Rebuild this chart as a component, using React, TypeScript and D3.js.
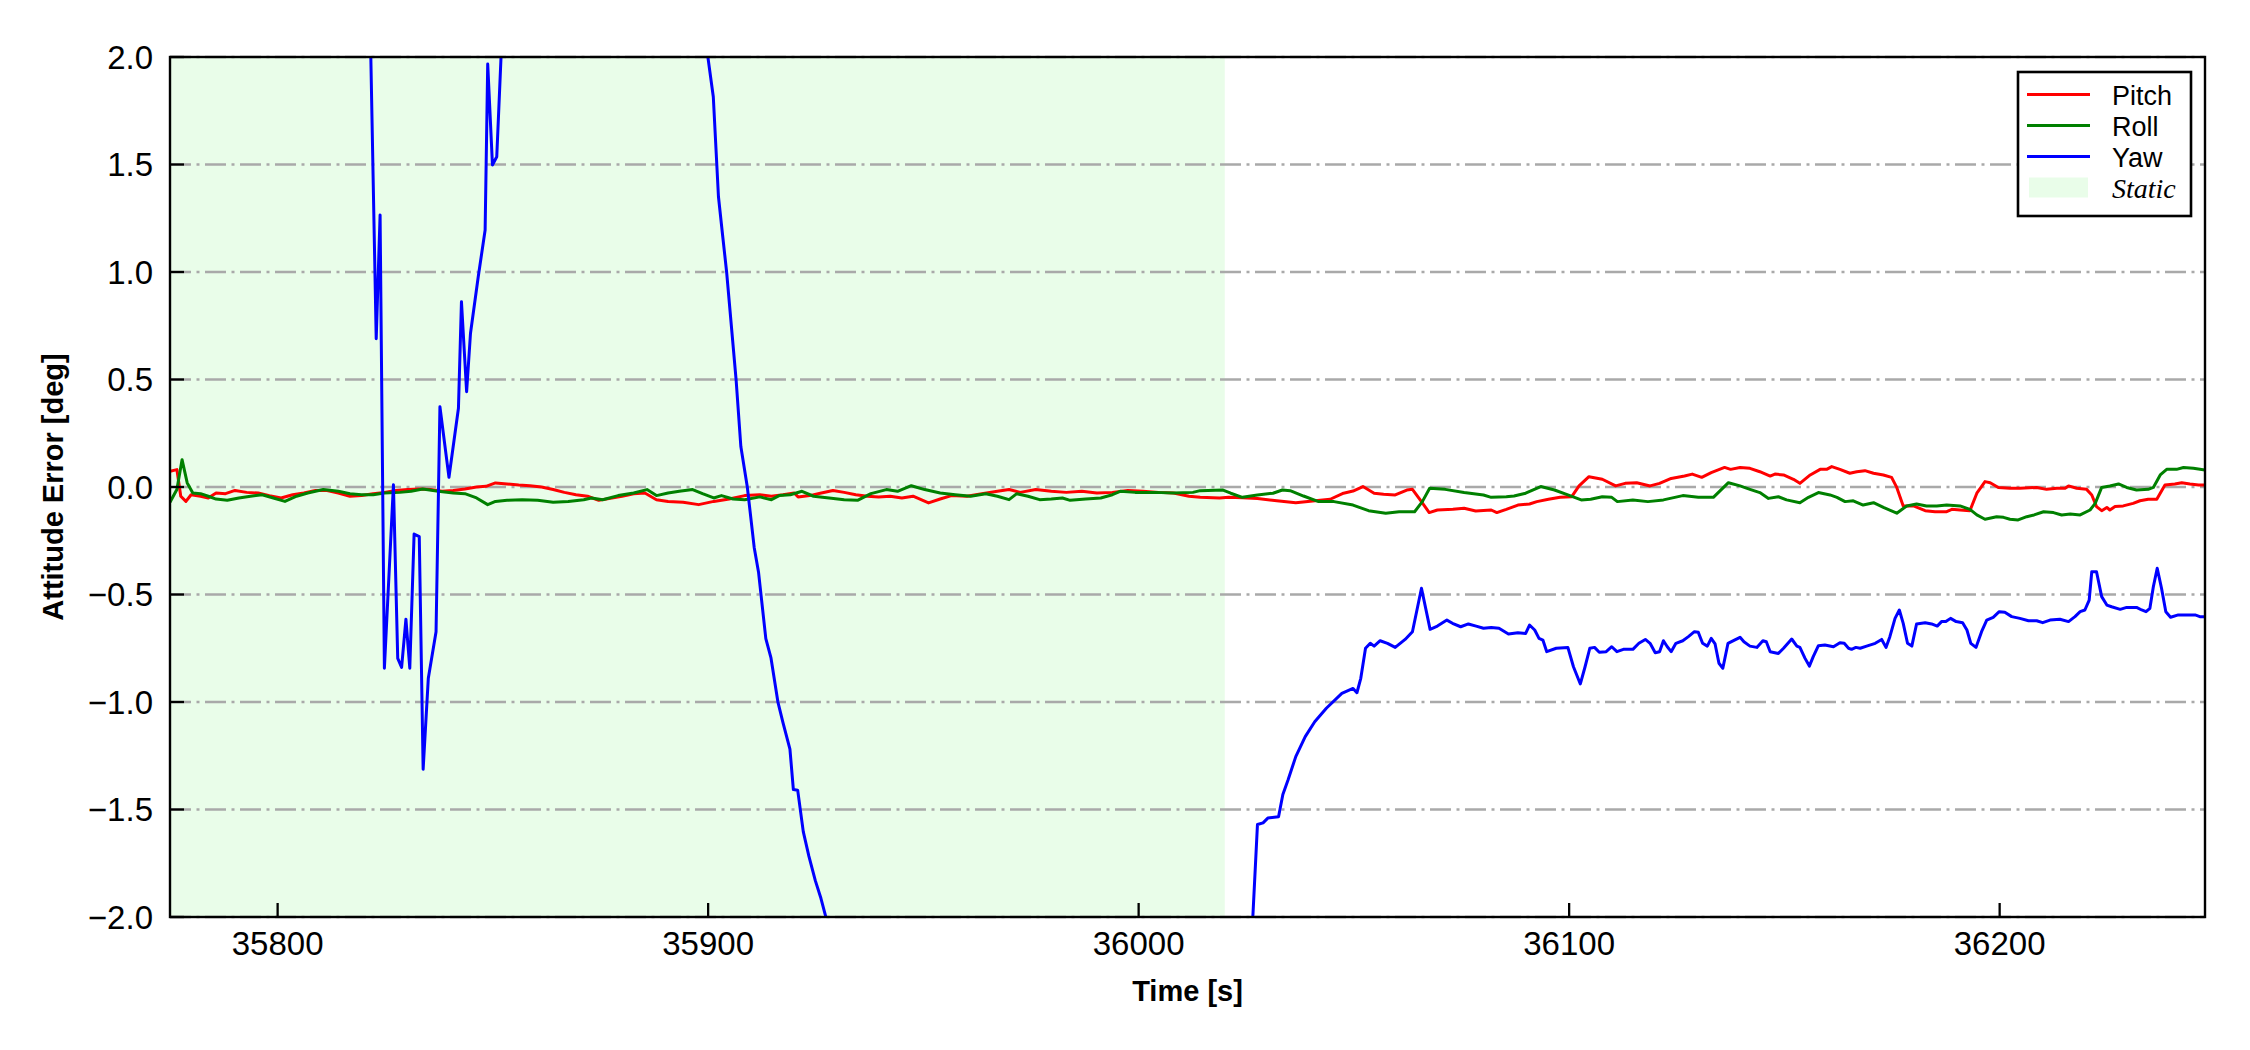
import React from "react";
import * as d3 from "d3";

// ---------- data ----------
const timeDomain: [number, number] = [35775, 36247.7];
const attitudeDomain: [number, number] = [-2, 2];
const staticSpan: [number, number] = [35775, 36020];
const xTickValues = [35800, 35900, 36000, 36100, 36200];
const yTickValues = [-2, -1.5, -1, -0.5, 0, 0.5, 1, 1.5, 2];
const seriesNames = ["Pitch", "Roll", "Yaw"];
const seriesColors = ["#ff0000", "#008000", "#0000ff"];
const staticLabel = "Static";

const pitch: [number, number][] = [
  [35775, 0.073], [35776.6, 0.081], [35777.5, -0.043], [35778.7, -0.067], [35779.9, -0.036],
  [35782.1, -0.043], [35783.9, -0.051], [35785.7, -0.028], [35787.9, -0.031], [35790.1, -0.016],
  [35792.8, -0.025], [35795.5, -0.028], [35798.1, -0.04], [35800.8, -0.051], [35803.5, -0.036],
  [35806.1, -0.028], [35808.8, -0.016], [35811.5, -0.016], [35814.1, -0.028], [35816.8, -0.043],
  [35819.5, -0.04], [35822.2, -0.031], [35824.8, -0.025], [35827.5, -0.016], [35830.2, -0.012],
  [35832.8, -0.009], [35835.5, -0.012], [35838.2, -0.02], [35840.8, -0.016], [35843.5, -0.009],
  [35846.2, 0.0], [35848.4, 0.003], [35850.6, 0.019], [35853.3, 0.014], [35856, 0.009],
  [35858.6, 0.006], [35861.3, 0.0], [35864, -0.012], [35866.6, -0.025], [35869.3, -0.036],
  [35872, -0.043], [35874.6, -0.062], [35877.3, -0.053], [35880, -0.043], [35882.7, -0.031],
  [35885.3, -0.028], [35888, -0.059], [35890.7, -0.067], [35894.2, -0.071], [35897.8, -0.082],
  [35901.3, -0.067], [35904.9, -0.056], [35908.5, -0.04], [35912, -0.036], [35914.7, -0.043],
  [35917.4, -0.036], [35920, -0.028], [35920.9, -0.046], [35923.6, -0.04], [35926.3, -0.028],
  [35929, -0.016], [35931.6, -0.025], [35934.3, -0.036], [35937, -0.043], [35939.6, -0.046],
  [35942.3, -0.043], [35945, -0.051], [35947.6, -0.043], [35951.2, -0.074], [35953.9, -0.056],
  [35956.5, -0.04], [35960.1, -0.043], [35963.6, -0.031], [35967.2, -0.02], [35969.9, -0.012],
  [35972.5, -0.025], [35976.1, -0.012], [35979.7, -0.02], [35983.2, -0.025], [35986.8, -0.02],
  [35990.3, -0.028], [35993.9, -0.025], [35997.5, -0.016], [36001, -0.02], [36004.6, -0.025],
  [36008.1, -0.028], [36011.7, -0.043], [36014.3, -0.048], [36018.8, -0.051], [36020.9, -0.048],
  [36024.1, -0.05], [36027.6, -0.053], [36032.1, -0.064], [36036.5, -0.073], [36041, -0.064],
  [36044.5, -0.057], [36047.6, -0.029], [36049.8, -0.019], [36052.1, 0.002], [36054.7, -0.029],
  [36056.9, -0.034], [36059.6, -0.037], [36062.3, -0.014], [36063.6, -0.011], [36065.4, -0.06],
  [36067.5, -0.119], [36069.4, -0.107], [36073, -0.104], [36075.6, -0.099], [36078.3, -0.112],
  [36081.9, -0.107], [36083.2, -0.119], [36085.4, -0.104], [36088.1, -0.084], [36090.8, -0.079],
  [36092.5, -0.068], [36095.2, -0.057], [36097.9, -0.048], [36100.6, -0.045], [36102.3, 0.005],
  [36104.6, 0.048], [36107.7, 0.036], [36110.8, 0.005], [36113, 0.017], [36115.7, 0.02],
  [36118.8, 0.005], [36121, 0.017], [36123.7, 0.04], [36126.8, 0.051], [36128.6, 0.06],
  [36130.8, 0.045], [36133, 0.067], [36136.1, 0.091], [36137.5, 0.082], [36139.7, 0.091],
  [36142, 0.087], [36144.3, 0.071], [36146.7, 0.051], [36147.8, 0.06], [36149.8, 0.056],
  [36152.1, 0.036], [36153.6, 0.017], [36156, 0.056], [36158.3, 0.082], [36159.8, 0.082],
  [36161, 0.095], [36162.9, 0.082], [36165.2, 0.064], [36166.8, 0.071], [36168.7, 0.076],
  [36170.7, 0.064], [36173, 0.056], [36174.9, 0.045], [36176.1, -0.002], [36177.6, -0.088],
  [36180, -0.088], [36182.7, -0.11], [36185, -0.115], [36187.7, -0.115], [36188.9, -0.104],
  [36190.8, -0.107], [36193.1, -0.11], [36194.7, -0.029], [36196.6, 0.025], [36197.8, 0.02],
  [36199.7, -0.002], [36202.4, -0.006], [36204.7, -0.006], [36208.6, -0.002], [36210.9, -0.011],
  [36213.3, -0.006], [36215.2, -0.006], [36216, 0.005], [36217.9, -0.006], [36220.2, -0.011],
  [36221.4, -0.037], [36222.5, -0.091], [36223.7, -0.11], [36224.9, -0.095], [36225.6, -0.107],
  [36226.8, -0.091], [36228.7, -0.088], [36231, -0.076], [36232.6, -0.064], [36234.5, -0.057],
  [36236.5, -0.057], [36237.3, -0.029], [36238.4, 0.009], [36240.7, 0.014], [36242.3, 0.02],
  [36244.2, 0.014], [36246.2, 0.009], [36247.7, 0.009],
];

const roll: [number, number][] = [
  [35775, -0.071], [35776.6, -0.012], [35777.8, 0.127], [35779, 0.019], [35780.3, -0.028],
  [35782.1, -0.031], [35783.9, -0.043], [35785.7, -0.056], [35788.3, -0.062], [35791, -0.051],
  [35793.7, -0.043], [35796.4, -0.036], [35799, -0.051], [35801.7, -0.067], [35804.4, -0.043],
  [35807, -0.028], [35810.6, -0.012], [35814.1, -0.02], [35816.8, -0.031], [35819.5, -0.036],
  [35822.2, -0.036], [35824.8, -0.028], [35828.4, -0.025], [35831, -0.02], [35833.7, -0.009],
  [35837.3, -0.02], [35840.8, -0.028], [35843.5, -0.031], [35846.2, -0.051], [35848.8, -0.082],
  [35850.6, -0.067], [35853.3, -0.062], [35856.8, -0.059], [35860.4, -0.062], [35864, -0.071],
  [35867.5, -0.067], [35871.1, -0.059], [35872.9, -0.051], [35875.5, -0.059], [35879.1, -0.04],
  [35882.7, -0.028], [35885.8, -0.012], [35888, -0.04], [35890.7, -0.028], [35893.3, -0.02],
  [35896.4, -0.012], [35898.7, -0.031], [35901.3, -0.051], [35903.1, -0.04], [35905.8, -0.056],
  [35908.5, -0.059], [35912, -0.046], [35914.7, -0.059], [35916.5, -0.04], [35919.1, -0.036],
  [35921.8, -0.02], [35924.5, -0.043], [35928.1, -0.051], [35931.6, -0.059], [35934.7, -0.062],
  [35937.8, -0.031], [35941.4, -0.012], [35944, -0.02], [35947.2, 0.006], [35950.3, -0.012],
  [35953.9, -0.028], [35957.4, -0.036], [35961, -0.043], [35964.5, -0.031], [35967.2, -0.043],
  [35969.9, -0.059], [35971.7, -0.031], [35974.3, -0.043], [35977, -0.059], [35979.7, -0.056],
  [35982.3, -0.051], [35984.1, -0.062], [35987.7, -0.056], [35991.2, -0.051], [35993.9, -0.036],
  [35995.7, -0.02], [35999.2, -0.025], [36003.7, -0.025], [36008.1, -0.028], [36012.6, -0.025],
  [36014.3, -0.017], [36019.6, -0.014], [36021.4, -0.029], [36024.1, -0.048], [36027.6, -0.037],
  [36031.2, -0.029], [36033.4, -0.014], [36035.2, -0.017], [36038.3, -0.042], [36041.8, -0.068],
  [36045.4, -0.068], [36049.8, -0.084], [36053.4, -0.11], [36057.4, -0.122], [36060.5, -0.115],
  [36064.1, -0.115], [36065.9, -0.068], [36067.6, -0.006], [36071.2, -0.011], [36075.6, -0.026],
  [36080.1, -0.037], [36081.9, -0.048], [36085.4, -0.045], [36087.2, -0.042], [36089.9, -0.029],
  [36093.4, 0.002], [36096.6, -0.014], [36099.7, -0.037], [36102.8, -0.06], [36105, -0.057],
  [36107.7, -0.045], [36109.9, -0.048], [36111.2, -0.068], [36114.8, -0.06], [36118.3, -0.068],
  [36121.9, -0.06], [36126.4, -0.04], [36130, -0.048], [36133.5, -0.048], [36137, 0.02],
  [36139.7, 0.005], [36142, -0.011], [36144.3, -0.026], [36146.3, -0.053], [36148.6, -0.045],
  [36150.5, -0.06], [36153.6, -0.073], [36155.6, -0.048], [36157.9, -0.026], [36160.6, -0.037],
  [36162.2, -0.048], [36164.1, -0.068], [36166, -0.064], [36168.3, -0.084], [36170.7, -0.073],
  [36173, -0.095], [36176.1, -0.122], [36178.4, -0.088], [36180.7, -0.079], [36183, -0.088],
  [36185.4, -0.088], [36187.7, -0.084], [36190.8, -0.088], [36193.1, -0.104], [36194.7, -0.13],
  [36196.6, -0.15], [36199.3, -0.138], [36200.9, -0.141], [36202.4, -0.15], [36204.3, -0.153],
  [36206.3, -0.138], [36208, -0.13], [36210.2, -0.115], [36212.5, -0.119], [36214.4, -0.13],
  [36216.4, -0.126], [36218.7, -0.13], [36221, -0.107], [36222.2, -0.076], [36223.7, -0.002],
  [36225.6, 0.005], [36227.6, 0.014], [36229.5, -0.002], [36231.8, -0.014], [36234.5, -0.011],
  [36235.7, -0.002], [36237.3, 0.056], [36238.8, 0.082], [36241.1, 0.082], [36242.7, 0.091],
  [36245, 0.087], [36247.7, 0.079],
];

// NaN marks stretches where the yaw error is far outside the plotted range
const yaw: [number, number][] = [
  [35821.6, 2.05], [35822.9, 0.69], [35823.8, 1.265], [35824.8, -0.843], [35826.9, 0.01],
  [35827.9, -0.797], [35828.8, -0.839], [35829.8, -0.615], [35830.7, -0.843], [35831.7, -0.219],
  [35832.9, -0.231], [35833.8, -1.313], [35835.0, -0.89], [35836.8, -0.673], [35837.7, 0.373],
  [35839.8, 0.045], [35842.0, 0.366], [35842.7, 0.862], [35843.9, 0.443], [35844.8, 0.715],
  [35846.6, 0.978], [35848.2, 1.195], [35848.8, 1.967], [35849.9, 1.498], [35850.9, 1.536],
  [35852.0, 2.05], [35870, NaN],
  [35899.6, 2.05], [35901.2, 1.815], [35902.4, 1.35], [35903.4, 1.164], [35904.3, 0.999],
  [35906.5, 0.498], [35907.6, 0.188], [35909.1, 0.0], [35910.7, -0.281], [35911.7, -0.395],
  [35913.4, -0.705], [35914.6, -0.795], [35916.2, -0.999], [35917.4, -1.097], [35919.0, -1.219],
  [35919.8, -1.407], [35920.8, -1.41], [35922.1, -1.603], [35923.4, -1.717], [35924.9, -1.831],
  [35926.2, -1.913], [35928.0, -2.05], [35980, NaN],
  [36026.4, -2.05], [36027.6, -1.57], [36028.9, -1.562], [36030.0, -1.54], [36032.5, -1.534],
  [36033.5, -1.43], [36034.7, -1.363], [36036.5, -1.254], [36038.7, -1.161], [36040.9, -1.092],
  [36043.6, -1.029], [36047.2, -0.96], [36049.8, -0.937], [36050.7, -0.957], [36051.6, -0.89],
  [36052.7, -0.75], [36053.8, -0.727], [36054.7, -0.74], [36056.1, -0.715], [36057.8, -0.727],
  [36059.6, -0.746], [36061.9, -0.709], [36063.6, -0.673], [36065.7, -0.471], [36067.7, -0.662],
  [36069.4, -0.647], [36071.6, -0.619], [36072.9, -0.634], [36074.8, -0.65], [36076.6, -0.637],
  [36078.4, -0.647], [36080.1, -0.657], [36081.9, -0.653], [36083.7, -0.657], [36085.9, -0.684],
  [36088.1, -0.678], [36089.9, -0.681], [36090.8, -0.642], [36092.0, -0.665], [36093.0, -0.704],
  [36093.9, -0.712], [36094.8, -0.766], [36097.0, -0.75], [36099.7, -0.746], [36101.0, -0.836],
  [36102.6, -0.916], [36103.7, -0.836], [36104.8, -0.75], [36105.9, -0.746], [36107.0, -0.769],
  [36108.6, -0.766], [36109.9, -0.743], [36111.1, -0.766], [36112.6, -0.755], [36114.8, -0.755],
  [36116.2, -0.727], [36117.7, -0.709], [36118.8, -0.727], [36120.0, -0.771], [36121.0, -0.766],
  [36121.9, -0.715], [36122.8, -0.743], [36123.7, -0.766], [36124.8, -0.727], [36126.4, -0.715],
  [36127.7, -0.696], [36129.1, -0.673], [36130.0, -0.676], [36131.0, -0.727], [36132.1, -0.74],
  [36133.0, -0.704], [36133.9, -0.73], [36134.8, -0.82], [36135.7, -0.843], [36136.9, -0.727],
  [36138.4, -0.712], [36139.7, -0.699], [36140.6, -0.72], [36142.0, -0.74], [36143.6, -0.746],
  [36145.0, -0.715], [36145.8, -0.72], [36146.7, -0.766], [36148.6, -0.774], [36149.8, -0.75],
  [36151.7, -0.707], [36152.9, -0.74], [36153.6, -0.746], [36154.8, -0.797], [36155.8, -0.833],
  [36156.7, -0.789], [36157.9, -0.738], [36159.4, -0.735], [36161.4, -0.743], [36162.9, -0.724],
  [36163.9, -0.727], [36164.9, -0.75], [36165.6, -0.755], [36166.6, -0.746], [36167.6, -0.75],
  [36169.1, -0.74], [36171.1, -0.727], [36172.6, -0.709], [36173.6, -0.746], [36174.5, -0.696],
  [36175.7, -0.611], [36176.7, -0.572], [36177.6, -0.634], [36178.6, -0.727], [36179.6, -0.74],
  [36180.7, -0.637], [36182.7, -0.631], [36184.2, -0.637], [36185.5, -0.647], [36186.5, -0.626],
  [36187.5, -0.626], [36188.6, -0.611], [36189.9, -0.626], [36191.4, -0.631], [36192.4, -0.665],
  [36193.3, -0.727], [36194.5, -0.746], [36195.8, -0.673], [36197.0, -0.619], [36198.5, -0.606],
  [36199.9, -0.58], [36201.2, -0.583], [36202.8, -0.603], [36204.7, -0.611], [36206.7, -0.622],
  [36208.6, -0.622], [36210.0, -0.631], [36211.7, -0.619], [36214.0, -0.615], [36216.0, -0.626],
  [36217.5, -0.603], [36218.7, -0.58], [36219.8, -0.572], [36220.8, -0.526], [36221.4, -0.394],
  [36222.5, -0.394], [36223.7, -0.51], [36224.9, -0.549], [36226.0, -0.557], [36228.0, -0.569],
  [36229.5, -0.56], [36231.8, -0.56], [36233.0, -0.572], [36234.0, -0.58], [36234.9, -0.564],
  [36235.7, -0.464], [36236.6, -0.378], [36237.6, -0.471], [36238.6, -0.58], [36239.7, -0.606],
  [36241.5, -0.595], [36243.4, -0.595], [36245.4, -0.595], [36246.5, -0.603], [36247.7, -0.603],
];

const seriesData = [pitch, roll, yaw];

// ---------- layout ----------
const W = 2250;
const H = 1050;
const plot = { left: 170, right: 2205, top: 57, bottom: 917 };
const SANS = "'Liberation Sans', Arial, Helvetica, sans-serif";
const SERIF = "'Liberation Serif', 'Times New Roman', serif";
const STATIC_FILL = "#e9fde9";
const GRID = "#a9a9a9";

const fmtY = (v: number) => (v < 0 ? "\u2212" : "") + d3.format(".1f")(Math.abs(v));

export default function App() {
  const x = d3.scaleLinear().domain(timeDomain).range([plot.left, plot.right]);
  const y = d3.scaleLinear().domain(attitudeDomain).range([plot.bottom, plot.top]);
  const line = d3
    .line<[number, number]>()
    .defined((d) => !Number.isNaN(d[1]))
    .x((d) => x(d[0]))
    .y((d) => y(d[1]));

  const legend = { x: 2018, y: 72, w: 173, h: 144 };
  const rowY = [94.5, 125.5, 156.5, 187.5];

  return (
    <svg
      width={W}
      height={H}
      viewBox={`0 0 ${W} ${H}`}
      style={{ position: "absolute", left: 0, top: 0, background: "#fff" }}
    >
      <defs>
        <clipPath id="plotClip">
          <rect x={plot.left} y={plot.top} width={plot.right - plot.left} height={plot.bottom - plot.top} />
        </clipPath>
      </defs>
      <rect x={0} y={0} width={W} height={H} fill="#fff" />

      {/* static span */}
      <rect
        x={x(staticSpan[0])}
        y={plot.top}
        width={x(staticSpan[1]) - x(staticSpan[0])}
        height={plot.bottom - plot.top}
        fill={STATIC_FILL}
      />

      {/* horizontal grid */}
      {yTickValues.map((v) => (
        <line
          key={"g" + v}
          x1={plot.left}
          x2={plot.right}
          y1={y(v)}
          y2={y(v)}
          stroke={GRID}
          strokeWidth={2.7}
          strokeDasharray="21 5.5 3 5.5"
        />
      ))}

      {/* series */}
      <g clipPath="url(#plotClip)">
        {seriesData.map((d, i) => (
          <path
            key={seriesNames[i]}
            d={line(d) || ""}
            fill="none"
            stroke={seriesColors[i]}
            strokeWidth={3}
            strokeLinejoin="round"
            strokeLinecap="butt"
          />
        ))}
      </g>

      {/* ticks (inward) */}
      {yTickValues.map((v) => (
        <line key={"yt" + v} x1={plot.left} x2={plot.left + 14} y1={y(v)} y2={y(v)} stroke="#000" strokeWidth={2.3} />
      ))}
      {xTickValues.map((v) => (
        <line key={"xt" + v} x1={x(v)} x2={x(v)} y1={plot.bottom} y2={plot.bottom - 14} stroke="#000" strokeWidth={2.3} />
      ))}

      {/* frame */}
      <rect
        x={plot.left}
        y={plot.top}
        width={plot.right - plot.left}
        height={plot.bottom - plot.top}
        fill="none"
        stroke="#000"
        strokeWidth={2.4}
      />

      {/* tick labels */}
      {yTickValues.map((v) => (
        <text
          key={"yl" + v}
          x={153}
          y={y(v) + 11.8}
          textAnchor="end"
          fontFamily={SANS}
          fontSize={33}
          fill="#000"
        >
          {fmtY(v)}
        </text>
      ))}
      {xTickValues.map((v) => (
        <text key={"xl" + v} x={x(v)} y={955} textAnchor="middle" fontFamily={SANS} fontSize={33} fill="#000">
          {String(v)}
        </text>
      ))}

      {/* axis titles */}
      <text
        x={(plot.left + plot.right) / 2}
        y={1001}
        textAnchor="middle"
        fontFamily={SANS}
        fontSize={29}
        fontWeight="bold"
        fill="#000"
      >
        Time [s]
      </text>
      <text
        transform={`translate(63, ${(plot.top + plot.bottom) / 2}) rotate(-90)`}
        textAnchor="middle"
        fontFamily={SANS}
        fontSize={29}
        fontWeight="bold"
        fill="#000"
      >
        Attitude Error [deg]
      </text>

      {/* legend */}
      <rect x={legend.x} y={legend.y} width={legend.w} height={legend.h} fill="#fff" stroke="#000" strokeWidth={2.6} />
      {seriesNames.map((name, i) => (
        <g key={"lg" + name}>
          <line x1={2027} x2={2090} y1={rowY[i]} y2={rowY[i]} stroke={seriesColors[i]} strokeWidth={3} />
          <text x={2112} y={rowY[i] + 10} fontFamily={SANS} fontSize={27} fill="#000">
            {name}
          </text>
        </g>
      ))}
      <rect x={2029} y={rowY[3] - 10} width={59} height={20} fill={STATIC_FILL} />
      <text x={2112} y={rowY[3] + 10} fontFamily={SERIF} fontStyle="italic" fontSize={28} fill="#000">
        {staticLabel}
      </text>
    </svg>
  );
}
